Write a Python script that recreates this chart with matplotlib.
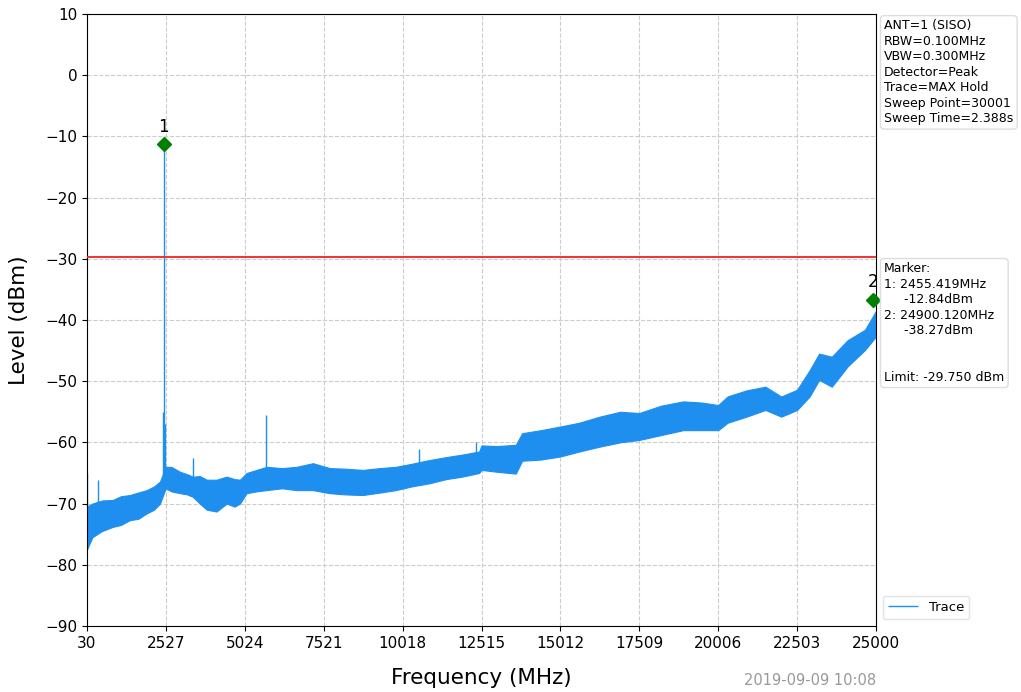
import numpy as np
import matplotlib
matplotlib.use('Agg')
import matplotlib.pyplot as plt

# noise band of the trace (MHz, upper dBm, lower dBm)
band_f = [30, 200, 500, 850, 1100, 1390, 1650, 1920, 2150, 2340, 2520, 2700, 2970,
          3200, 3380, 3600, 3820, 4130, 4450, 4700, 4870, 5080, 5400, 5710, 6200,
          6660, 7180, 7710, 8200, 8760, 9300, 9800, 10300, 10850, 11400, 11900,
          12440, 12515, 13000, 13600, 13800, 14400, 15012, 15600, 16250, 16900,
          17509, 18200, 18900, 19500, 20006, 20300, 20900, 21500, 22000, 22503,
          22900, 23200, 23600, 24100, 24650, 25000]
band_top = [-70.5, -70, -69.5, -69.4, -68.8, -68.6, -68.2, -67.8, -67.2, -66.4, -64, -64,
            -64.8, -65.2, -65.6, -65.5, -66.1, -66.1, -65.6, -66, -66.1, -65, -64.5,
            -64, -64.2, -64, -63.4, -64.2, -64.3, -64.5, -64.2, -64, -63.5, -62.9,
            -62.4, -62, -61.5, -60.5, -60.6, -60.4, -58.5, -58, -57.4, -56.8, -55.8,
            -55, -55.2, -54, -53.3, -53.5, -53.9, -52.5, -51.5, -50.9, -52.5, -51.4,
            -48.2, -45.5, -46, -43.3, -41.6, -38.5]
band_bot = [-77.5, -75.5, -74.5, -73.8, -73.5, -72.7, -72.5, -71.6, -71, -70, -67.5, -68,
            -68.3, -68.5, -68.9, -70, -71, -71.3, -70, -70.5, -70, -68.3, -68, -67.8,
            -67.5, -67.8, -67.8, -68.3, -68.5, -68.6, -68.2, -67.8, -67.2, -66.7, -66,
            -65.6, -65, -64.5, -64.8, -65.1, -63, -62.8, -62.3, -61.5, -60.7, -60,
            -59.6, -58.8, -58, -58, -58, -56.8, -55.8, -54.7, -55.8, -54.7, -52.5,
            -49.8, -50.9, -47.6, -44.9, -42.7]

# single spurs sticking out of the band
spur_f = [30, 380, 2420, 2455.419, 2490, 3380, 5710, 10550, 12350]
spur_top = [-65, -66.1, -55, -11.3, -57, -62.5, -55.5, -61, -59.9]
spur_base = [-74, -72, -68, -68, -66, -67, -66, -65, -63]

marker_f = [2455.419, 24900.120]
marker_lvl = [-11.3, -36.7]
marker_names = ['1', '2']

limit_lvl = -29.750
xticks = [30, 2527, 5024, 7521, 10018, 12515, 15012, 17509, 20006, 22503, 25000]

info_txt = ('ANT=1 (SISO)\nRBW=0.100MHz\nVBW=0.300MHz\nDetector=Peak\n'
            'Trace=MAX Hold\nSweep Point=30001\nSweep Time=2.388s')
marker_txt = ('Marker:\n1: 2455.419MHz\n     -12.84dBm\n2: 24900.120MHz\n'
              '     -38.27dBm\n\n\nLimit: -29.750 dBm')

trace_col = '#1e8fef'

fig = plt.figure(figsize=(10.21, 6.92), dpi=100)
ax = fig.add_axes([0.0852, 0.0954, 0.7728, 0.8844])

ax.fill_between(band_f, band_bot, band_top, color=trace_col, lw=0.8, zorder=2)
ax.vlines(spur_f, spur_base, spur_top, color=trace_col, lw=1.0, zorder=2, label='Trace')
ax.axhline(limit_lvl, color='#ee2222', lw=1.3, zorder=3)

ax.plot(marker_f, marker_lvl, 'D', color='green', ms=7, zorder=4, clip_on=False)
for f, l, n in zip(marker_f, marker_lvl, marker_names):
    ax.annotate(n, (f, l), xytext=(0, 6), textcoords='offset points',
                ha='center', va='bottom', fontsize=12, zorder=5)

ax.set_xlim(30, 25000)
ax.set_ylim(-90, 10)
ax.set_xticks(xticks)
ax.set_yticks(np.arange(-90, 11, 10))
ax.tick_params(labelsize=11)
ax.grid(True, ls='--', color='#cccccc', lw=0.8)
ax.set_axisbelow(True)
ax.set_xlabel('Frequency (MHz)', fontsize=15.5)
ax.set_ylabel('Level (dBm)', fontsize=15.5)
ax.xaxis.set_label_coords(0.5, -0.068)
ax.yaxis.set_label_coords(-0.074, 0.5)

box = dict(boxstyle='round,pad=0.3', fc='white', ec='#dddddd')
fig.text(0.866, 0.972, info_txt, fontsize=9, va='top', ha='left', bbox=box,
         linespacing=1.25)
fig.text(0.866, 0.621, marker_txt, fontsize=9, va='top', ha='left', bbox=box,
         linespacing=1.25)

ax.legend(loc='lower left', bbox_to_anchor=(1.0, 0.0), fontsize=9.5,
          borderaxespad=0.5, fancybox=True, edgecolor='#dddddd', handlelength=2.3)

fig.text(0.858, 0.017, '2019-09-09 10:08', fontsize=10.5, color='#999999',
         ha='right', va='center')

fig.savefig('out.png', dpi=100)
